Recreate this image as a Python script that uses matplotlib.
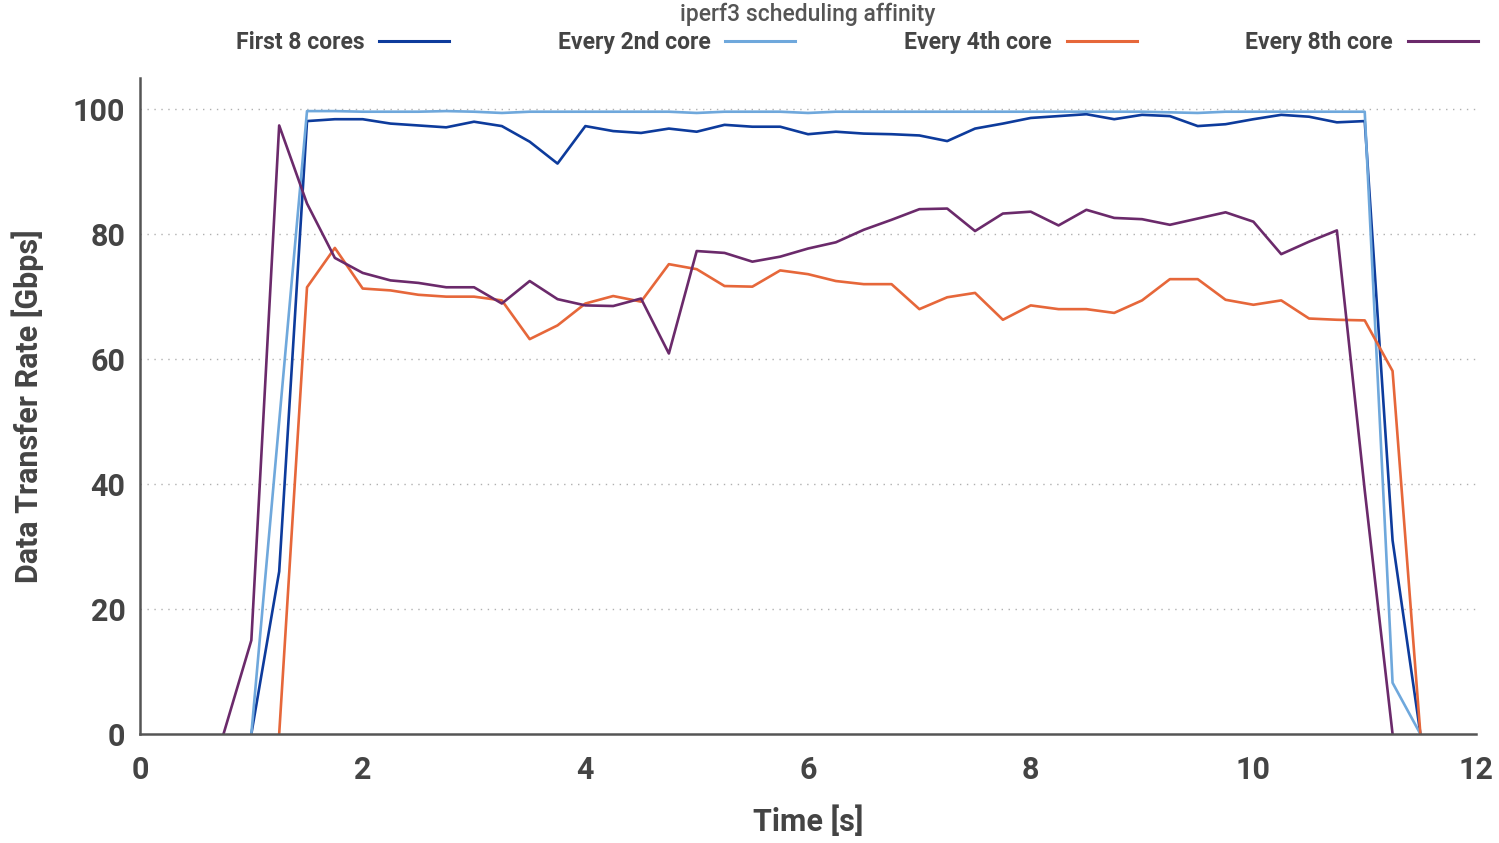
import numpy as np
import matplotlib.pyplot as plt

plt.rcParams['font.family'] = ['Roboto', 'DejaVu Sans']

# time axis, samples every 0.25 s
t = np.arange(0.75, 11.51, 0.25)

nan = np.nan
first8 = [nan, 0, 26, 98.1, 98.4, 98.4, 97.7, 97.4, 97.1, 98.0, 97.3, 94.8, 91.3,
          97.3, 96.5, 96.2, 96.9, 96.4, 97.5, 97.2, 97.2, 96.0, 96.4, 96.1, 96.0,
          95.8, 94.9, 96.9, 97.7, 98.6, 98.9, 99.2, 98.4, 99.1, 98.9, 97.3, 97.6,
          98.4, 99.1, 98.8, 97.9, 98.1, 31, 0]
every2 = [nan, 0, 50, 99.7, 99.7, 99.6, 99.6, 99.6, 99.7, 99.6, 99.4, 99.6, 99.6,
          99.6, 99.6, 99.6, 99.6, 99.4, 99.6, 99.6, 99.6, 99.4, 99.6, 99.6, 99.6,
          99.6, 99.6, 99.6, 99.6, 99.6, 99.6, 99.6, 99.6, 99.6, 99.5, 99.4, 99.6,
          99.6, 99.6, 99.6, 99.6, 99.6, 8.2, 0]
every4 = [nan, nan, 0, 71.5, 77.8, 71.3, 71.0, 70.3, 70.0, 70.0, 69.4, 63.2, 65.4,
          68.9, 70.1, 69.2, 75.2, 74.4, 71.7, 71.6, 74.2, 73.6, 72.5, 72.0, 72.0,
          68.0, 69.9, 70.6, 66.3, 68.6, 68.0, 68.0, 67.4, 69.4, 72.8, 72.8, 69.5,
          68.7, 69.4, 66.5, 66.3, 66.2, 58.1, 0]
every8 = [0, 15, 97.4, 84.9, 76.2, 73.8, 72.6, 72.2, 71.5, 71.5, 68.9, 72.5, 69.6,
          68.6, 68.5, 69.7, 60.9, 77.3, 77.0, 75.6, 76.4, 77.7, 78.7, 80.7, 82.3,
          84.0, 84.1, 80.5, 83.3, 83.6, 81.4, 83.9, 82.6, 82.4, 81.5, 82.5, 83.5,
          82.0, 76.8, 78.8, 80.6, 39, 0, nan]

series = ['First 8 cores', 'Every 2nd core', 'Every 4th core', 'Every 8th core']
colors = ['#0d3b9c', '#6fa8dc', '#e6673a', '#6b2a6b']

fig = plt.figure(figsize=(14.99, 8.43), dpi=100)
ax = fig.add_axes([0.0934, 0.1293, 0.8913, 0.7782])

for name, vals, c in zip(series, [first8, every2, every4, every8], colors):
    ax.plot(t, vals, color=c, linewidth=1.9, label=name)

ax.set_xlim(0, 12)
ax.set_ylim(0, 105)
ax.set_xticks(range(0, 13, 2))
ax.set_yticks(range(0, 101, 20))

for y in range(20, 101, 20):
    ax.axhline(y, color='#b0b0b0', linewidth=1, linestyle=(0, (1, 4)), zorder=0)

for s in ['top', 'right']:
    ax.spines[s].set_visible(False)
for s in ['left', 'bottom']:
    ax.spines[s].set_color('#555555')
    ax.spines[s].set_linewidth(1.8)

ax.tick_params(length=0, labelsize=22, colors='#444444')
ax.tick_params(axis='x', pad=15)
ax.tick_params(axis='y', pad=10.5)
for lab in ax.get_xticklabels() + ax.get_yticklabels():
    lab.set_fontweight('bold')

ax.set_xlabel('Time [s]', fontsize=22, fontweight='bold', color='#444444', labelpad=15)
ax.set_ylabel('Data Transfer Rate [Gbps]', fontsize=22, fontweight='bold',
              color='#444444', labelpad=21)

fig.text(0.539, 0.983, 'iperf3 scheduling affinity', ha='center', va='center',
         fontsize=16.5, fontweight='medium', color='#555555')

leg = fig.legend(loc='center', bbox_to_anchor=(0.5715, 0.949), ncol=4, frameon=False,
                 markerfirst=False, handlelength=3.05, handletextpad=0.65,
                 columnspacing=4.75, prop={'size': 16.5, 'weight': 'bold'})
for txt in leg.get_texts():
    txt.set_color('#444444')
for line in leg.get_lines():
    line.set_linewidth(2.2)

fig.savefig('out.png', dpi=100)
